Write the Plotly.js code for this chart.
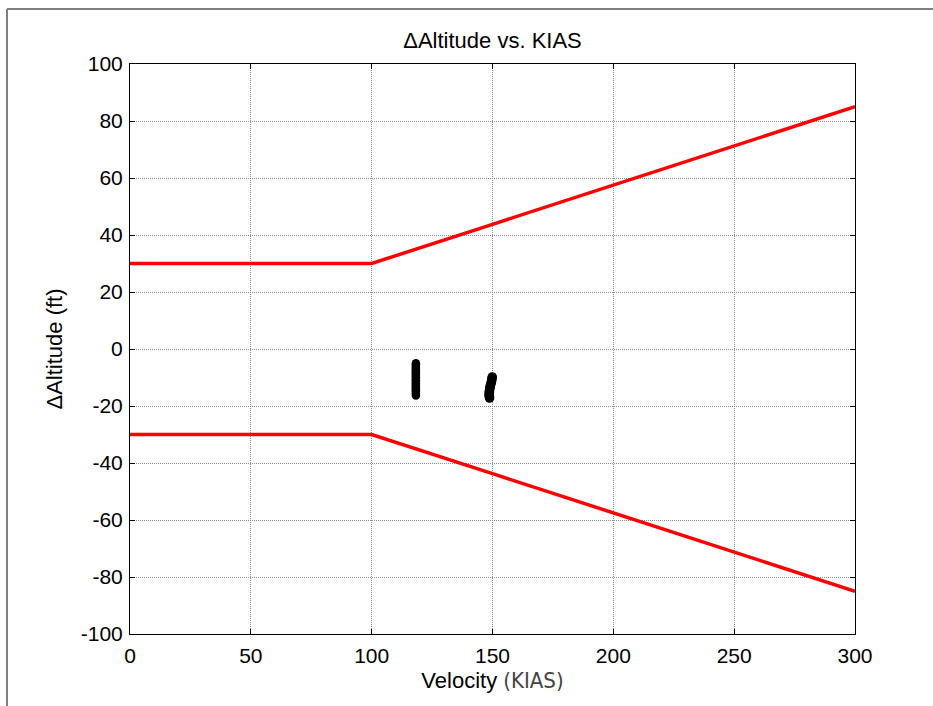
<!DOCTYPE html>
<html>
<head>
<meta charset="utf-8">
<script src="https://cdn.plot.ly/plotly-3.0.1.min.js"></script>
<style>
html,body{margin:0;padding:0;background:#fff;}
#chart{width:933px;height:706px;}
</style>
</head>
<body>
<div id="chart"></div>
<script>
// Tolerance boundary lines (red)
var boundX = [0, 100, 150, 200, 250, 300];
var upperBound = [30, 30, 43.75, 57.5, 71.25, 85];
var lowerBound = [-30, -30, -43.75, -57.5, -71.25, -85];

// Measured points, cluster near 118 KIAS
var pts1X = [118.3,118.3,118.3,118.3,118.3,118.3,118.3,118.3,118.3,118.3,118.3,118.3,118.3,118.3,118.3,118.3,118.3,118.3,118.3,118.3,118.3,118.3,118.3];
var pts1Y = [-5,-5.5,-6,-6.5,-7,-7.5,-8,-8.5,-9,-9.5,-10,-10.5,-11,-11.5,-12,-12.5,-13,-13.5,-14,-14.5,-15,-15.5,-16.3];

// Measured points, cluster near 149 KIAS
var pts2X = [149.9,149.8,149.7,149.6,149.5,149.3,149.1,149.0,148.9,148.8,148.7,148.7,148.6,148.6,148.7,148.8];
var pts2Y = [-9.8,-10.3,-10.8,-11.3,-11.8,-12.3,-12.8,-13.3,-13.8,-14.3,-14.8,-15.3,-15.8,-16.3,-16.8,-17.2];

var xTicks = [0, 50, 100, 150, 200, 250, 300];
var yTicks = [-100, -80, -60, -40, -20, 0, 20, 40, 60, 80, 100];

var tickFont = {family: 'Liberation Sans, Arial, sans-serif', size: 21, color: '#000'};
var titleFont = {family: 'Liberation Sans, Arial, sans-serif', size: 22, color: '#000'};

var traces = [
  {x: boundX, y: upperBound, mode: 'lines', line: {color: '#ff0000', width: 3.5}, hoverinfo: 'skip'},
  {x: boundX, y: lowerBound, mode: 'lines', line: {color: '#ff0000', width: 3.5}, hoverinfo: 'skip'},
  {x: pts1X, y: pts1Y, mode: 'markers', marker: {color: '#000', size: 8.5}},
  {x: pts2X, y: pts2Y, mode: 'markers', marker: {color: '#000', size: 9.5}}
];

var axisCommon = {
  showline: true, linecolor: '#000', linewidth: 1, mirror: 'ticks',
  ticks: 'inside', ticklen: 5, tickcolor: '#000', tickwidth: 1,
  showgrid: true, gridcolor: '#8c8c8c', gridwidth: 1, griddash: '1px,1px',
  zeroline: false, tickfont: tickFont
};

var layout = {
  width: 933, height: 706,
  margin: {l: 130, r: 78, t: 64, b: 72},
  paper_bgcolor: '#fff', plot_bgcolor: '#fff',
  showlegend: false,
  font: tickFont,
  title: {text: '\u0394Altitude vs. KIAS', font: titleFont, x: 0.5, xref: 'paper', y: 1, yref: 'paper', yanchor: 'bottom', pad: {b: 16}},
  xaxis: Object.assign({}, axisCommon, {
    range: [0, 300], tickvals: xTicks, ticktext: xTicks.map(String), ticklabelstandoff: 3,
    title: {text: 'Velocity <span style="font-family:DejaVu Sans Condensed;color:#444">(KIAS)</span>', font: titleFont, standoff: 6}
  }),
  yaxis: Object.assign({}, axisCommon, {
    range: [-100, 100], tickvals: yTicks, ticktext: yTicks.map(String), ticklabelstandoff: 2,
    title: {text: '\u0394Altitude (ft)', font: titleFont, standoff: 12}
  }),
  shapes: [
    {type: 'line', xref: 'paper', yref: 'paper', x0: (7 - 130) / 725, x1: (940 - 130) / 725, y0: (634 - 9) / 570, y1: (634 - 9) / 570, line: {color: '#808080', width: 2}},
    {type: 'line', xref: 'paper', yref: 'paper', x0: (7 - 130) / 725, x1: (7 - 130) / 725, y0: (634 - 9) / 570, y1: (634 - 720) / 570, line: {color: '#808080', width: 2}}
  ]
};

Plotly.newPlot('chart', traces, layout, {displayModeBar: false, staticPlot: true});
</script>
</body>
</html>
